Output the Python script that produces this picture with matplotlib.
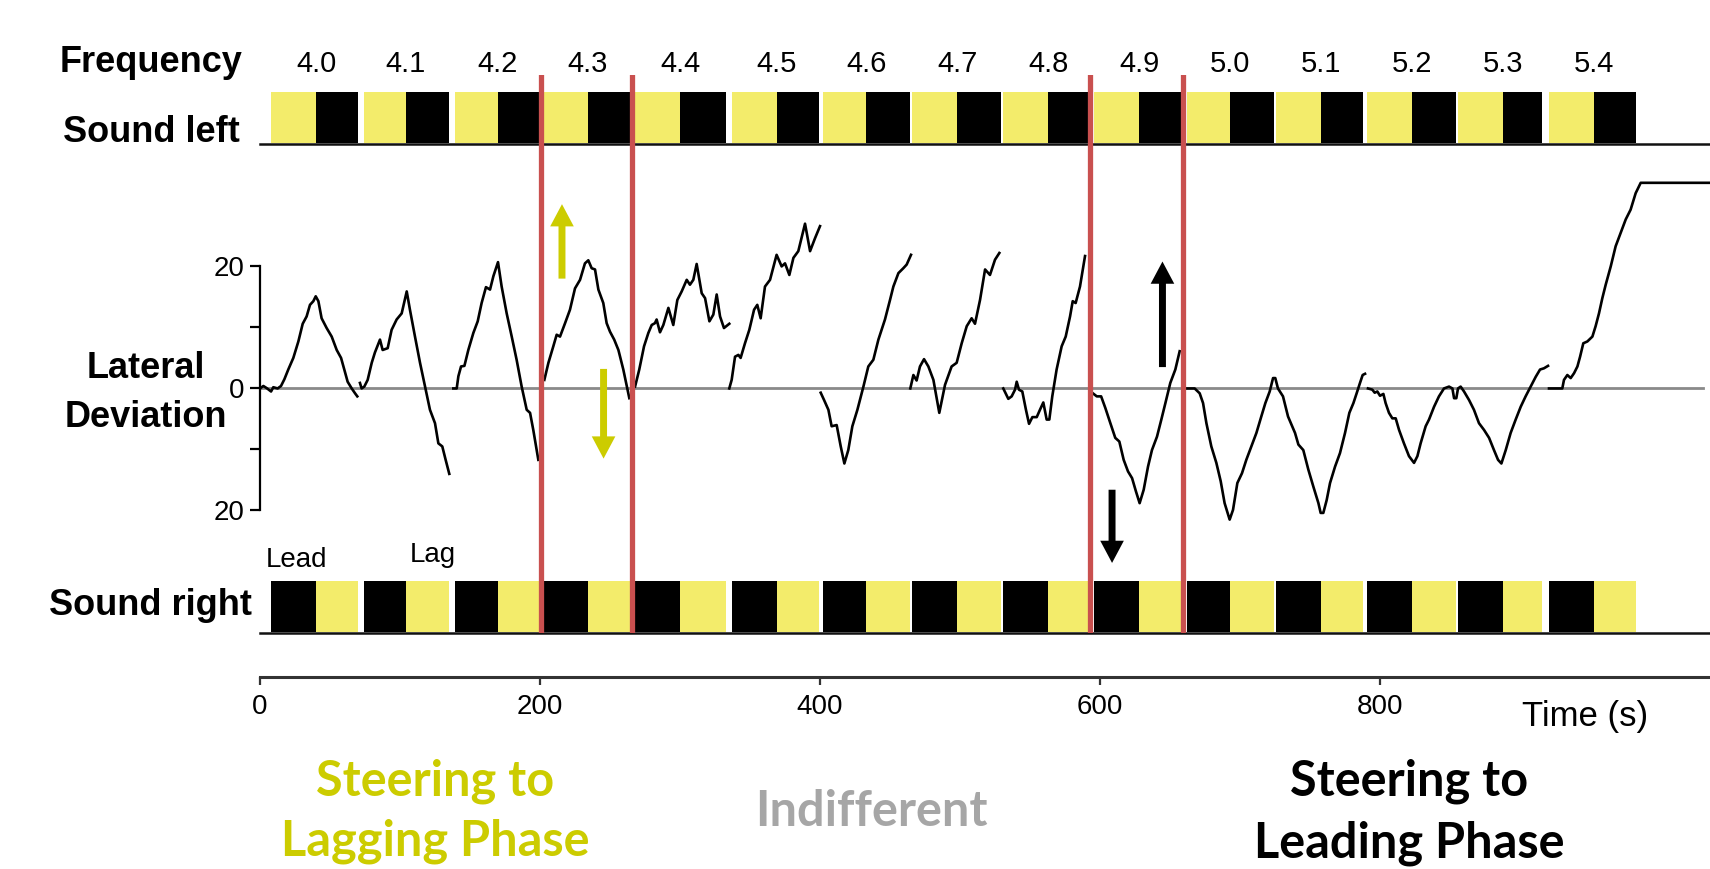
import numpy as np
import matplotlib
matplotlib.use("Agg")
import matplotlib.pyplot as plt
from matplotlib import font_manager

# --- data -------------------------------------------------------------
freq_labels = ['4.0', '4.1', '4.2', '4.3', '4.4', '4.5', '4.6', '4.7',
               '4.8', '4.9', '5.0', '5.1', '5.2', '5.3', '5.4']
# each frequency block: start, colour switch, end (s)
block_start = [8, 74, 139, 202, 268, 337, 402, 466, 531, 596, 662, 726, 791, 856, 921]
block_mid = [40, 104, 170, 234, 300, 369, 433, 498, 563, 628, 693, 758, 823, 888, 953]
block_end = [70, 135, 201, 266, 333, 399, 464, 529, 594, 660, 724, 788, 854, 916, 983]

phase_switch = [201, 266, 592.5, 659.3]   # red lines (s)

# lateral deviation trace, one piece per block
seg_a_t = [0, 2.4, 4.8, 7.9, 9.5, 12.6, 15, 17.4, 20.2, 23.8, 27.4, 30.5, 33.3, 35.7,
           38.1, 39.8, 41.7, 44, 47.6, 51.2, 54.8, 57.9, 60.2, 62.6, 65.5, 67.9, 69.5]
seg_a_v = [0, 0.4, 0.05, -0.5, 0.2, 0, 0.4, 1.5, 3.1, 5.0, 7.7, 10.6, 11.8, 13.7,
           14.3, 15.1, 14.3, 11.5, 9.9, 8.5, 6.3, 5.0, 3.1, 1.1, 0, -0.8, -1.3]
seg_b_t = [71.4, 72.6, 74.5, 76.9, 79.8, 82.1, 85.7, 87.6, 91.2, 94, 97.6, 101.2, 104.8,
           107.1, 110.7, 114.3, 117.9, 121.4, 125, 127.4, 130.2, 132.6, 135.2]
seg_b_v = [0.9, 0, 0.3, 1.4, 4.2, 5.9, 8.0, 6.3, 6.6, 9.6, 11.3, 12.3, 15.9,
           12.9, 8.5, 4.2, 0.3, -3.5, -5.7, -9.0, -9.5, -11.7, -14.0]
seg_c_t = [138.1, 140.5, 141.7, 143.6, 146, 148.8, 152.4, 155.5, 158.3, 161.4, 164.3,
           166.7, 170, 172.6, 176.2, 179.8, 183.3, 186.9, 190.5, 192.9, 195.2, 198.8]
seg_c_v = [0, 0, 2.0, 3.6, 3.7, 6.3, 9.1, 11.0, 14.0, 16.6, 16.2,
           18.4, 20.7, 16.7, 12.3, 8.5, 4.7, 0.3, -3.5, -4.0, -6.8, -11.7]
seg_d_t = [203.1, 206, 209.5, 211.9, 214.3, 217.9, 221.4, 225, 228.6, 232.1, 234.5,
           236.9, 239.3, 241.7, 245.2, 247.6, 250, 253, 256, 259.5, 263.8]
seg_d_v = [1.4, 4.2, 6.9, 8.8, 8.5, 10.7, 12.9, 16.4, 17.8, 20.5, 21.0,
           19.7, 19.5, 16.2, 14.0, 10.7, 9.3, 8.0, 6.3, 3.1, -1.6]
seg_e_t = [267.9, 270.9, 274.3, 277.4, 279.8, 282.1, 283.3, 285.7, 288.1, 291.7, 295.2,
           298.1, 301.2, 304.8, 307.1, 309.5, 311.9, 315.5, 317.9, 321, 323.8, 326.2,
           328.6, 331.4, 335.2]
seg_e_v = [0.3, 3.1, 6.9, 9.1, 10.4, 10.7, 11.3, 9.2, 10.4, 13.2, 10.4,
           14.5, 15.9, 17.8, 17.0, 17.8, 20.4, 15.6, 14.8, 11.0, 12.1, 15.4,
           11.8, 9.9, 10.6]
seg_f_t = [335.2, 336.9, 339.3, 341.7, 343.3, 346.4, 349.5, 352.9, 355.2, 357.6, 360.7,
           364.3, 369, 372.6, 375, 378.1, 381, 384.5, 389.3, 392.9, 396.4, 400]
seg_f_v = [0, 1.4, 5.2, 5.5, 5.0, 7.4, 9.6, 12.9, 13.7, 11.5, 16.7,
           17.8, 21.9, 20.0, 20.5, 18.6, 21.4, 22.5, 27.0, 22.5, 24.6, 26.6]
seg_g_t = [400.5, 402.9, 406, 408.3, 411.9, 414.8, 417.4, 420.2, 423.1, 426.7, 431,
           434.5, 438.1, 441.7, 446.4, 450, 452.4, 456, 459.5, 461.9, 465]
seg_g_v = [-0.7, -1.9, -3.5, -6.2, -6.0, -9.5, -12.3, -10.1, -6.2, -3.5, 0.3,
           3.6, 4.7, 8.0, 11.3, 14.5, 16.7, 18.9, 19.7, 20.3, 21.9]
seg_h_t = [464.5, 466.7, 469, 471.4, 474.3, 477.4, 481, 485.2, 489.3, 494, 497.6,
           501.2, 504.8, 508.3, 510.7, 514.3, 517.9, 521.4, 525, 528.1]
seg_h_v = [0, 2.2, 1.3, 3.6, 4.8, 3.6, 1.4, -4.0, 0.6, 3.6, 4.2,
           7.4, 10.2, 11.5, 10.6, 14.5, 19.5, 18.6, 21.1, 22.2]
seg_i_t = [530.9, 534.5, 536.9, 539.3, 540.5, 542.1, 544.5, 547.1, 549.3, 551.7, 554.8,
           557.1, 559.5, 561.9, 563.8, 565.9, 569, 572.6, 575.5, 578.6, 580.5, 582.6,
           585.7, 589.3]
seg_i_v = [0, -1.7, -1.3, -0.2, 1.1, -0.2, -0.5, -3.5, -5.8, -4.7, -4.7,
           -3.5, -2.3, -5.1, -5.1, -1.3, 3.1, 6.9, 8.5, 11.8, 14.3, 14.0,
           16.7, 21.7]
seg_j_t = [594.9, 597.7, 600.8, 603.8, 607.4, 610.9, 613.8, 616.9, 620, 622.9, 625.7,
           628.3, 631.2, 634.3, 637.1, 640.7, 643.8, 646.7, 650.2, 653.8, 656.9]
seg_j_v = [-0.8, -1.3, -1.3, -3.2, -5.7, -8.1, -8.7, -11.7, -13.6, -14.7, -16.9,
           -18.8, -16.6, -12.8, -10.1, -7.9, -5.1, -2.4, 0.9, 3.1, 6.1]
seg_k_t = [661, 667.6, 671.2, 673.6, 676, 679.5, 683.1, 686.2, 689, 692.6, 695, 698.1,
           701.4, 704.5, 708.1, 711.7, 715.2, 718.1, 721.2, 723.6, 725.2, 727.1, 730.7,
           734.3, 739.3, 741.7, 745.2, 748.8, 752.4, 756, 757.6, 759.5, 761.9, 764.3,
           767.9, 771.4, 775, 778.1, 781, 783.3, 785.7, 787.6, 789.3]
seg_k_v = [0, 0, -0.8, -2.4, -5.7, -9.5, -12.2, -15.2, -18.8, -21.5, -19.9, -15.5,
           -13.9, -11.7, -9.5, -7.3, -4.6, -2.4, -0.5, 1.7, 1.7, 0, -1.3,
           -4.6, -7.3, -9.2, -10.1, -13.3, -16.1, -18.8, -20.4, -20.4, -18.3, -15.5,
           -12.8, -10.6, -7.3, -4.0, -2.4, -0.8, 0.9, 2.2, 2.4]
seg_l_t = [791.4, 794.5, 796.2, 798.1, 800, 802.4, 804, 806.4, 808.8, 811.2, 813.6,
           817.1, 820.7, 824.3, 826.7, 829, 832.6, 835, 838.6, 842.1, 845.7, 849.3,
           851.7, 852.9, 854.5, 855.7, 857.6, 860, 863.6, 867.1, 870.7, 874.3, 877.9,
           881.4, 884.3, 886.7, 889.8, 893.3, 896.9, 900.5, 904, 907.6, 911.2, 914.3,
           917.1, 920]
seg_l_v = [0, -0.2, -0.7, -0.5, -1.2, -0.9, -2.4, -4.0, -4.9, -4.9, -6.8,
           -9.0, -11.1, -12.2, -11.1, -9.0, -6.2, -5.1, -3.0, -1.3, 0, 0.3,
           0, -1.6, -1.6, 0, 0.3, -0.5, -1.9, -3.5, -5.7, -6.8, -8.1,
           -10.1, -11.7, -12.3, -10.1, -7.3, -5.1, -3.0, -1.3, 0.3, 1.9, 3.1,
           3.3, 3.7]
seg_m_t = [920.7, 930.2, 931.4, 933.8, 936.2, 938.6, 941, 942.9, 945.2, 948.1, 951.7,
           954, 956.4, 958.8, 961.2, 964.8, 968.3, 971.9, 975.5, 979, 982.6, 986.2,
           998.1, 1036]
seg_m_v = [0, 0, 1.4, 2.2, 1.7, 2.5, 3.6, 5.2, 7.4, 7.7, 8.5,
           10.2, 12.3, 14.8, 17.0, 20.0, 23.3, 25.5, 27.7, 29.3, 32.0, 33.7,
           33.7, 33.7]

# steering arrows: time, tail, tip (deviation units)
arrow_t = [215.7, 245.4, 644.6, 608.6]
arrow_tail = [18.0, 3.2, 3.5, -16.6]
arrow_tip = [30.2, -11.5, 20.8, -28.6]
arrow_col = ['#cccc00', '#cccc00', 'black', 'black']

# --- style ------------------------------------------------------------
def has_font(name):
    try:
        font_manager.findfont(name, fallback_to_default=False)
        return True
    except Exception:
        return False

plt.rcParams['font.family'] = ['Liberation Sans', 'DejaVu Sans']
cap_font = 'Lato' if has_font('Lato') else 'Open Sans'

YELLOW = '#f3ec6b'
RED = '#c9504f'
W, H = 1710, 869
T_MAX = 1035.7


def px_box(left, top, right, bottom):
    return [left / W, 1 - bottom / H, (right - left) / W, (bottom - top) / H]


def fig_text(x, y, s, **kw):
    fig.text(x / W, 1 - y / H, s, **kw)


fig = plt.figure(figsize=(W / 100, H / 100), dpi=100)

# lateral deviation
ax = fig.add_axes(px_box(260, 170, W, 530))
ax.set_xlim(0, T_MAX)
ax.set_ylim(-23.2, 35.8)
ax.axhline(0, xmin=0, xmax=0.995, color='#8a8a8a', lw=2.0, zorder=1)
segs = [(seg_a_t, seg_a_v), (seg_b_t, seg_b_v), (seg_c_t, seg_c_v), (seg_d_t, seg_d_v),
        (seg_e_t, seg_e_v), (seg_f_t, seg_f_v), (seg_g_t, seg_g_v), (seg_h_t, seg_h_v),
        (seg_i_t, seg_i_v), (seg_j_t, seg_j_v), (seg_k_t, seg_k_v), (seg_l_t, seg_l_v),
        (seg_m_t, seg_m_v)]
for st, sv in segs:
    ax.plot(st, sv, color='black', lw=1.9, zorder=2)
for s in ['top', 'right', 'bottom']:
    ax.spines[s].set_visible(False)
ax.spines['left'].set_bounds(-20, 20)
ax.spines['left'].set_linewidth(1.6)
ax.set_yticks([-20, 0, 20])
ax.set_yticklabels(['20', '0', '20'])
ax.set_yticks([-10, 10], minor=True)
ax.tick_params(axis='y', which='both', length=7, width=1.6, labelsize=20, pad=4)
ax.set_xticks([])
for t, a, b, c in zip(arrow_t, arrow_tail, arrow_tip, arrow_col):
    ax.annotate('', xy=(t, b), xytext=(t, a), annotation_clip=False,
                arrowprops=dict(width=5, headwidth=17, headlength=16, shrink=0,
                                color=c, lw=0))

# sound bars
def sound_axes(top, bottom, first, second):
    sa = fig.add_axes(px_box(260, top, W, bottom))
    sa.set_xlim(0, T_MAX)
    sa.set_ylim(0, 1)
    sa.broken_barh([(s, m - s) for s, m in zip(block_start, block_mid)], (0.02, 0.98),
                   facecolor=first, edgecolor='none')
    sa.broken_barh([(m, e - m) for m, e in zip(block_mid, block_end)], (0.02, 0.98),
                   facecolor=second, edgecolor='none')
    sa.axhline(0, color='#111111', lw=1.8, clip_on=False)
    sa.axis('off')
    return sa

ax_l = sound_axes(91.7, 144, YELLOW, 'black')
ax_r = sound_axes(580.7, 633, 'black', YELLOW)

for m, lab in zip(block_mid, freq_labels):
    ax_l.text(m, 1.38, lab, transform=ax_l.get_xaxis_transform(),
              ha='center', va='baseline', fontsize=21)

# red phase lines
ax_red = fig.add_axes(px_box(260, 75, W, 633))
ax_red.set_xlim(0, T_MAX)
ax_red.set_ylim(0, 1)
for x in phase_switch:
    ax_red.axvline(x, color=RED, lw=3.8)
ax_red.axis('off')

# time axis
ax_t = fig.add_axes(px_box(260, 660, W, 677))
ax_t.set_xlim(0, T_MAX)
ax_t.set_yticks([])
for s in ['top', 'right', 'left']:
    ax_t.spines[s].set_visible(False)
ax_t.spines['bottom'].set_linewidth(2.2)
ax_t.spines['bottom'].set_color('#333333')
ax_t.set_xticks([0, 200, 400, 600, 800])
ax_t.tick_params(axis='x', length=6, width=1.6, color='#333333', labelsize=20, pad=6)
ax_t.patch.set_alpha(0)

# labels
fig_text(242, 72, 'Frequency', ha='right', va='baseline', fontsize=26, fontweight='bold')
fig_text(240, 142, 'Sound left', ha='right', va='baseline', fontsize=26, fontweight='bold')
fig_text(252, 615, 'Sound right', ha='right', va='baseline', fontsize=26, fontweight='bold')
fig_text(146, 378, 'Lateral', ha='center', va='baseline', fontsize=26, fontweight='bold')
fig_text(146, 427, 'Deviation', ha='center', va='baseline', fontsize=26, fontweight='bold')
fig_text(296, 567, 'Lead', ha='center', va='baseline', fontsize=20)
fig_text(433, 562, 'Lag', ha='center', va='baseline', fontsize=20)
fig_text(1522, 726, 'Time (s)', ha='left', va='baseline', fontsize=25)

fig_text(435, 796, 'Steering to', ha='center', va='baseline', fontsize=35,
         fontweight='bold', color='#cccc00', family=cap_font)
fig_text(435, 856, 'Lagging Phase', ha='center', va='baseline', fontsize=35,
         fontweight='bold', color='#cccc00', family=cap_font)
fig_text(871, 826, 'Indifferent', ha='center', va='baseline', fontsize=35,
         fontweight='bold', color='#a6a6a6', family=cap_font)
fig_text(1409, 796, 'Steering to', ha='center', va='baseline', fontsize=35,
         fontweight='bold', color='black', family=cap_font)
fig_text(1409, 857, 'Leading Phase', ha='center', va='baseline', fontsize=35,
         fontweight='bold', color='black', family=cap_font)

fig.savefig('out.png', dpi=100)
